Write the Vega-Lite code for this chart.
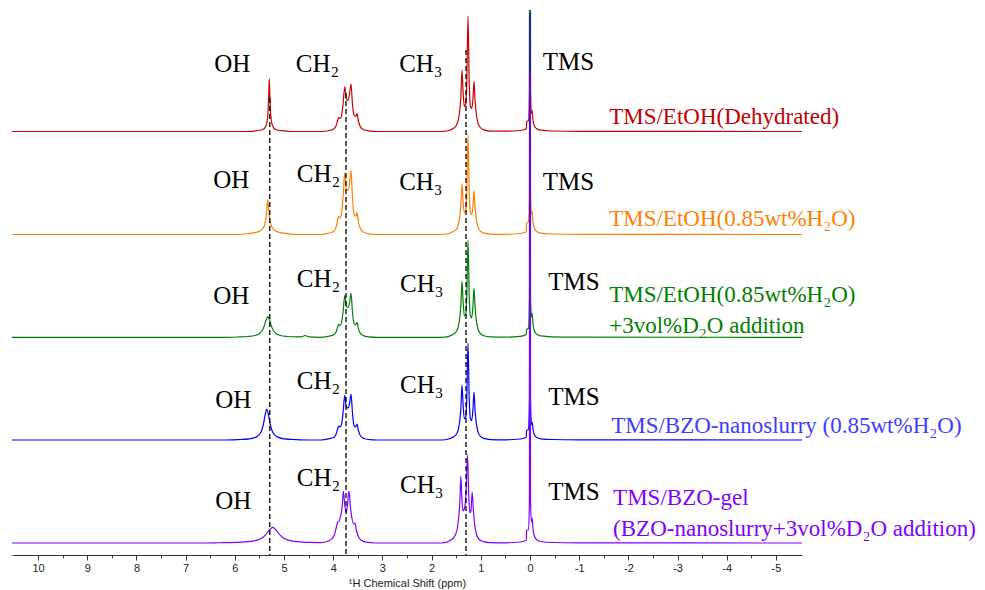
{
  "$schema": "https://vega.github.io/schema/vega-lite/v6.json",
  "width": 790,
  "height": 545,
  "autosize": {"type": "none"},
  "padding": {"left": 12, "top": 10, "right": 183, "bottom": 35},
  "background": "white",
  "config": {"view": {"stroke": null}},
  "datasets": {
    "spectra": [
      {"s":"R","ppm":10.53,"i":0},{"s":"R","ppm":5.75,"i":0},{"s":"R","ppm":5.55,"i":0.8},{"s":"R","ppm":5.45,"i":1.8},{"s":"R","ppm":5.40,"i":3},{"s":"R","ppm":5.37,"i":5.5},{"s":"R","ppm":5.345,"i":10},{"s":"R","ppm":5.325,"i":20},{"s":"R","ppm":5.312,"i":35},{"s":"R","ppm":5.30,"i":53},{"s":"R","ppm":5.288,"i":35},{"s":"R","ppm":5.275,"i":20},{"s":"R","ppm":5.255,"i":10},{"s":"R","ppm":5.23,"i":5.5},{"s":"R","ppm":5.20,"i":3},{"s":"R","ppm":5.15,"i":1.8},{"s":"R","ppm":5.05,"i":0.8},{"s":"R","ppm":4.85,"i":0},
      {"s":"R","ppm":4.25,"i":0},{"s":"R","ppm":4.08,"i":1},{"s":"R","ppm":3.99,"i":2.5},{"s":"R","ppm":3.94,"i":6},{"s":"R","ppm":3.905,"i":12},{"s":"R","ppm":3.89,"i":14},{"s":"R","ppm":3.86,"i":13},{"s":"R","ppm":3.83,"i":16},{"s":"R","ppm":3.80,"i":27},{"s":"R","ppm":3.765,"i":45},{"s":"R","ppm":3.735,"i":33},{"s":"R","ppm":3.70,"i":31},{"s":"R","ppm":3.67,"i":37},{"s":"R","ppm":3.638,"i":47.5},{"s":"R","ppm":3.61,"i":28},{"s":"R","ppm":3.58,"i":17},{"s":"R","ppm":3.545,"i":15},{"s":"R","ppm":3.515,"i":18},{"s":"R","ppm":3.49,"i":11},{"s":"R","ppm":3.45,"i":5},{"s":"R","ppm":3.39,"i":2},{"s":"R","ppm":3.28,"i":0.6},{"s":"R","ppm":3.1,"i":0},
      {"s":"R","ppm":1.80,"i":0},{"s":"R","ppm":1.65,"i":1},{"s":"R","ppm":1.56,"i":3},{"s":"R","ppm":1.50,"i":6},{"s":"R","ppm":1.46,"i":11},{"s":"R","ppm":1.43,"i":20},{"s":"R","ppm":1.405,"i":35},{"s":"R","ppm":1.382,"i":61.5},{"s":"R","ppm":1.36,"i":40},{"s":"R","ppm":1.335,"i":25},{"s":"R","ppm":1.31,"i":27},{"s":"R","ppm":1.285,"i":48},{"s":"R","ppm":1.26,"i":115.5},{"s":"R","ppm":1.235,"i":48},{"s":"R","ppm":1.21,"i":25},{"s":"R","ppm":1.185,"i":23},{"s":"R","ppm":1.16,"i":32},{"s":"R","ppm":1.138,"i":50.5},{"s":"R","ppm":1.115,"i":30},{"s":"R","ppm":1.09,"i":17},{"s":"R","ppm":1.06,"i":9},{"s":"R","ppm":1.01,"i":4},{"s":"R","ppm":0.94,"i":1.6},{"s":"R","ppm":0.80,"i":0.4},
      {"s":"R","ppm":0.45,"i":0.3},{"s":"R","ppm":0.2,"i":1},{"s":"R","ppm":0.1,"i":2.2},{"s":"R","ppm":0.072,"i":3},{"s":"R","ppm":0.068,"i":10},{"s":"R","ppm":0.03,"i":11},{"s":"R","ppm":0.012,"i":40},{"s":"R","ppm":0,"i":700},{"s":"R","ppm":-0.012,"i":40},{"s":"R","ppm":-0.03,"i":18},{"s":"R","ppm":-0.045,"i":21},{"s":"R","ppm":-0.06,"i":12},{"s":"R","ppm":-0.085,"i":6},{"s":"R","ppm":-0.13,"i":3},{"s":"R","ppm":-0.22,"i":1.3},{"s":"R","ppm":-0.45,"i":0.5},{"s":"R","ppm":-1,"i":0.2},{"s":"R","ppm":-5.53,"i":0},

      {"s":"O","ppm":10.53,"i":0},{"s":"O","ppm":5.9,"i":0},{"s":"O","ppm":5.7,"i":1.2},{"s":"O","ppm":5.56,"i":2.2},{"s":"O","ppm":5.49,"i":3.5},{"s":"O","ppm":5.44,"i":5.5},{"s":"O","ppm":5.40,"i":9},{"s":"O","ppm":5.37,"i":15},{"s":"O","ppm":5.35,"i":24},{"s":"O","ppm":5.33,"i":35},{"s":"O","ppm":5.31,"i":24},{"s":"O","ppm":5.29,"i":15},{"s":"O","ppm":5.26,"i":9},{"s":"O","ppm":5.22,"i":5.5},{"s":"O","ppm":5.17,"i":3.5},{"s":"O","ppm":5.10,"i":2.2},{"s":"O","ppm":4.96,"i":1.2},{"s":"O","ppm":4.7,"i":0},
      {"s":"O","ppm":4.25,"i":0},{"s":"O","ppm":4.08,"i":1.5},{"s":"O","ppm":3.99,"i":3},{"s":"O","ppm":3.94,"i":7.7},{"s":"O","ppm":3.905,"i":15.5},{"s":"O","ppm":3.89,"i":18},{"s":"O","ppm":3.86,"i":16.7},{"s":"O","ppm":3.83,"i":21.7},{"s":"O","ppm":3.80,"i":37},{"s":"O","ppm":3.765,"i":62},{"s":"O","ppm":3.735,"i":45},{"s":"O","ppm":3.70,"i":44},{"s":"O","ppm":3.67,"i":50},{"s":"O","ppm":3.638,"i":64},{"s":"O","ppm":3.61,"i":38},{"s":"O","ppm":3.58,"i":21},{"s":"O","ppm":3.545,"i":18},{"s":"O","ppm":3.515,"i":22},{"s":"O","ppm":3.49,"i":13},{"s":"O","ppm":3.45,"i":6},{"s":"O","ppm":3.39,"i":2.4},{"s":"O","ppm":3.28,"i":0.7},{"s":"O","ppm":3.1,"i":0},
      {"s":"O","ppm":1.80,"i":0},{"s":"O","ppm":1.65,"i":1},{"s":"O","ppm":1.56,"i":3},{"s":"O","ppm":1.50,"i":5.1},{"s":"O","ppm":1.46,"i":9.2},{"s":"O","ppm":1.43,"i":16.8},{"s":"O","ppm":1.405,"i":29},{"s":"O","ppm":1.382,"i":51},{"s":"O","ppm":1.36,"i":33},{"s":"O","ppm":1.335,"i":22},{"s":"O","ppm":1.31,"i":23},{"s":"O","ppm":1.285,"i":42},{"s":"O","ppm":1.26,"i":99.5},{"s":"O","ppm":1.235,"i":42},{"s":"O","ppm":1.21,"i":22},{"s":"O","ppm":1.185,"i":20},{"s":"O","ppm":1.16,"i":27.7},{"s":"O","ppm":1.138,"i":44},{"s":"O","ppm":1.115,"i":26.4},{"s":"O","ppm":1.09,"i":15},{"s":"O","ppm":1.06,"i":7.9},{"s":"O","ppm":1.01,"i":3.5},{"s":"O","ppm":0.94,"i":1.6},{"s":"O","ppm":0.80,"i":0.4},
      {"s":"O","ppm":0.5,"i":0.2},{"s":"O","ppm":0.2,"i":1},{"s":"O","ppm":0.1,"i":2.2},{"s":"O","ppm":0.075,"i":3},{"s":"O","ppm":0.07,"i":12},{"s":"O","ppm":0.03,"i":12},{"s":"O","ppm":0.012,"i":40},{"s":"O","ppm":0,"i":700},{"s":"O","ppm":-0.012,"i":40},{"s":"O","ppm":-0.03,"i":20},{"s":"O","ppm":-0.045,"i":23},{"s":"O","ppm":-0.06,"i":13},{"s":"O","ppm":-0.085,"i":6.5},{"s":"O","ppm":-0.13,"i":3.2},{"s":"O","ppm":-0.22,"i":1.4},{"s":"O","ppm":-0.45,"i":0.5},{"s":"O","ppm":-1,"i":0.2},{"s":"O","ppm":-5.53,"i":0},

      {"s":"G","ppm":10.53,"i":0},{"s":"G","ppm":6.2,"i":0},{"s":"G","ppm":5.95,"i":0.3},{"s":"G","ppm":5.73,"i":0.8},{"s":"G","ppm":5.57,"i":2.1},{"s":"G","ppm":5.49,"i":4.1},{"s":"G","ppm":5.45,"i":6.3},{"s":"G","ppm":5.41,"i":10.3},{"s":"G","ppm":5.37,"i":16.5},{"s":"G","ppm":5.33,"i":20.6},{"s":"G","ppm":5.29,"i":16.5},{"s":"G","ppm":5.25,"i":10.3},{"s":"G","ppm":5.21,"i":6.3},{"s":"G","ppm":5.17,"i":4.1},{"s":"G","ppm":5.09,"i":2.1},{"s":"G","ppm":4.93,"i":0.8},{"s":"G","ppm":4.73,"i":0.35},{"s":"G","ppm":4.65,"i":0.4},{"s":"G","ppm":4.57,"i":1.8},{"s":"G","ppm":4.49,"i":0.4},{"s":"G","ppm":4.3,"i":0},
      {"s":"G","ppm":4.08,"i":1.2},{"s":"G","ppm":3.99,"i":2.5},{"s":"G","ppm":3.94,"i":5.6},{"s":"G","ppm":3.905,"i":11},{"s":"G","ppm":3.89,"i":13},{"s":"G","ppm":3.86,"i":12},{"s":"G","ppm":3.83,"i":15},{"s":"G","ppm":3.80,"i":25},{"s":"G","ppm":3.765,"i":42},{"s":"G","ppm":3.735,"i":31},{"s":"G","ppm":3.70,"i":30},{"s":"G","ppm":3.67,"i":34},{"s":"G","ppm":3.638,"i":44},{"s":"G","ppm":3.61,"i":26},{"s":"G","ppm":3.58,"i":14},{"s":"G","ppm":3.545,"i":12.5},{"s":"G","ppm":3.515,"i":15},{"s":"G","ppm":3.49,"i":9},{"s":"G","ppm":3.45,"i":4.2},{"s":"G","ppm":3.39,"i":1.7},{"s":"G","ppm":3.28,"i":0.5},{"s":"G","ppm":3.1,"i":0},
      {"s":"G","ppm":1.80,"i":0},{"s":"G","ppm":1.65,"i":1},{"s":"G","ppm":1.56,"i":3},{"s":"G","ppm":1.50,"i":5.6},{"s":"G","ppm":1.46,"i":10},{"s":"G","ppm":1.43,"i":18.5},{"s":"G","ppm":1.405,"i":32},{"s":"G","ppm":1.382,"i":56},{"s":"G","ppm":1.36,"i":36.4},{"s":"G","ppm":1.335,"i":21.3},{"s":"G","ppm":1.31,"i":22.3},{"s":"G","ppm":1.285,"i":40.7},{"s":"G","ppm":1.26,"i":97},{"s":"G","ppm":1.235,"i":40.7},{"s":"G","ppm":1.21,"i":21.3},{"s":"G","ppm":1.185,"i":19.4},{"s":"G","ppm":1.16,"i":30.9},{"s":"G","ppm":1.138,"i":49},{"s":"G","ppm":1.115,"i":29.4},{"s":"G","ppm":1.09,"i":16.7},{"s":"G","ppm":1.06,"i":8.8},{"s":"G","ppm":1.01,"i":3.9},{"s":"G","ppm":0.94,"i":1.6},{"s":"G","ppm":0.80,"i":0.4},
      {"s":"G","ppm":0.5,"i":0.2},{"s":"G","ppm":0.2,"i":1},{"s":"G","ppm":0.1,"i":2.2},{"s":"G","ppm":0.075,"i":3},{"s":"G","ppm":0.07,"i":8},{"s":"G","ppm":0.03,"i":9},{"s":"G","ppm":0.012,"i":40},{"s":"G","ppm":0,"i":700},{"s":"G","ppm":-0.012,"i":40},{"s":"G","ppm":-0.03,"i":20},{"s":"G","ppm":-0.045,"i":24},{"s":"G","ppm":-0.06,"i":14},{"s":"G","ppm":-0.085,"i":7},{"s":"G","ppm":-0.13,"i":3.4},{"s":"G","ppm":-0.22,"i":1.4},{"s":"G","ppm":-0.45,"i":0.5},{"s":"G","ppm":-1,"i":0.2},{"s":"G","ppm":-5.53,"i":0},

      {"s":"B","ppm":10.53,"i":0},{"s":"B","ppm":6.2,"i":0},{"s":"B","ppm":5.95,"i":0.4},{"s":"B","ppm":5.70,"i":1.2},{"s":"B","ppm":5.56,"i":3.1},{"s":"B","ppm":5.49,"i":6.2},{"s":"B","ppm":5.455,"i":9.5},{"s":"B","ppm":5.42,"i":15.5},{"s":"B","ppm":5.385,"i":24.8},{"s":"B","ppm":5.35,"i":31},{"s":"B","ppm":5.315,"i":24.8},{"s":"B","ppm":5.28,"i":15.5},{"s":"B","ppm":5.245,"i":9.5},{"s":"B","ppm":5.21,"i":6.2},{"s":"B","ppm":5.14,"i":3.1},{"s":"B","ppm":5.0,"i":1.2},{"s":"B","ppm":4.75,"i":0.4},{"s":"B","ppm":4.5,"i":0},
      {"s":"B","ppm":4.25,"i":0},{"s":"B","ppm":4.08,"i":1.3},{"s":"B","ppm":3.99,"i":2.6},{"s":"B","ppm":3.94,"i":6},{"s":"B","ppm":3.905,"i":12},{"s":"B","ppm":3.89,"i":14},{"s":"B","ppm":3.86,"i":13},{"s":"B","ppm":3.83,"i":16},{"s":"B","ppm":3.80,"i":27},{"s":"B","ppm":3.765,"i":45},{"s":"B","ppm":3.735,"i":33},{"s":"B","ppm":3.70,"i":32},{"s":"B","ppm":3.67,"i":36},{"s":"B","ppm":3.638,"i":46},{"s":"B","ppm":3.61,"i":28},{"s":"B","ppm":3.58,"i":15},{"s":"B","ppm":3.545,"i":13},{"s":"B","ppm":3.515,"i":16},{"s":"B","ppm":3.49,"i":10},{"s":"B","ppm":3.45,"i":4.5},{"s":"B","ppm":3.39,"i":1.8},{"s":"B","ppm":3.28,"i":0.5},{"s":"B","ppm":3.1,"i":0},
      {"s":"B","ppm":1.80,"i":0},{"s":"B","ppm":1.65,"i":1},{"s":"B","ppm":1.56,"i":3},{"s":"B","ppm":1.50,"i":5.5},{"s":"B","ppm":1.46,"i":9.9},{"s":"B","ppm":1.43,"i":18.2},{"s":"B","ppm":1.405,"i":31.4},{"s":"B","ppm":1.382,"i":55},{"s":"B","ppm":1.36,"i":35.8},{"s":"B","ppm":1.335,"i":21.3},{"s":"B","ppm":1.31,"i":22.3},{"s":"B","ppm":1.285,"i":40.7},{"s":"B","ppm":1.26,"i":97},{"s":"B","ppm":1.235,"i":40.7},{"s":"B","ppm":1.21,"i":21.3},{"s":"B","ppm":1.185,"i":19.4},{"s":"B","ppm":1.16,"i":30.2},{"s":"B","ppm":1.138,"i":48},{"s":"B","ppm":1.115,"i":28.8},{"s":"B","ppm":1.09,"i":16.3},{"s":"B","ppm":1.06,"i":8.6},{"s":"B","ppm":1.01,"i":3.8},{"s":"B","ppm":0.94,"i":1.6},{"s":"B","ppm":0.80,"i":0.4},
      {"s":"B","ppm":0.5,"i":0.2},{"s":"B","ppm":0.2,"i":1},{"s":"B","ppm":0.1,"i":2.2},{"s":"B","ppm":0.075,"i":3},{"s":"B","ppm":0.07,"i":10},{"s":"B","ppm":0.03,"i":10},{"s":"B","ppm":0.012,"i":40},{"s":"B","ppm":0,"i":427},{"s":"B","ppm":-0.012,"i":40},{"s":"B","ppm":-0.03,"i":15},{"s":"B","ppm":-0.045,"i":18},{"s":"B","ppm":-0.06,"i":11},{"s":"B","ppm":-0.085,"i":5.5},{"s":"B","ppm":-0.13,"i":2.8},{"s":"B","ppm":-0.22,"i":1.2},{"s":"B","ppm":-0.45,"i":0.5},{"s":"B","ppm":-1,"i":0.2},{"s":"B","ppm":-5.53,"i":0},

      {"s":"P","ppm":10.53,"i":0},{"s":"P","ppm":6.6,"i":0},{"s":"P","ppm":6.33,"i":0.25},{"s":"P","ppm":5.98,"i":0.6},{"s":"P","ppm":5.68,"i":1.6},{"s":"P","ppm":5.53,"i":3.1},{"s":"P","ppm":5.455,"i":4.8},{"s":"P","ppm":5.38,"i":7.85},{"s":"P","ppm":5.305,"i":12.6},{"s":"P","ppm":5.23,"i":15.7},{"s":"P","ppm":5.155,"i":12.6},{"s":"P","ppm":5.08,"i":7.85},{"s":"P","ppm":5.005,"i":4.8},{"s":"P","ppm":4.93,"i":3.1},{"s":"P","ppm":4.78,"i":1.6},{"s":"P","ppm":4.48,"i":0.6},{"s":"P","ppm":4.25,"i":0.3},
      {"s":"P","ppm":4.10,"i":2},{"s":"P","ppm":4.02,"i":4.5},{"s":"P","ppm":3.97,"i":9},{"s":"P","ppm":3.935,"i":16},{"s":"P","ppm":3.91,"i":21},{"s":"P","ppm":3.88,"i":22},{"s":"P","ppm":3.845,"i":28},{"s":"P","ppm":3.815,"i":38},{"s":"P","ppm":3.795,"i":52},{"s":"P","ppm":3.765,"i":38},{"s":"P","ppm":3.737,"i":31},{"s":"P","ppm":3.71,"i":38},{"s":"P","ppm":3.68,"i":52},{"s":"P","ppm":3.65,"i":36},{"s":"P","ppm":3.62,"i":25},{"s":"P","ppm":3.585,"i":19},{"s":"P","ppm":3.557,"i":20},{"s":"P","ppm":3.53,"i":13},{"s":"P","ppm":3.49,"i":6.5},{"s":"P","ppm":3.43,"i":2.7},{"s":"P","ppm":3.33,"i":0.8},{"s":"P","ppm":3.15,"i":0},
      {"s":"P","ppm":1.80,"i":0},{"s":"P","ppm":1.66,"i":1.5},{"s":"P","ppm":1.58,"i":4},{"s":"P","ppm":1.52,"i":8},{"s":"P","ppm":1.48,"i":14},{"s":"P","ppm":1.45,"i":25},{"s":"P","ppm":1.425,"i":42},{"s":"P","ppm":1.405,"i":67},{"s":"P","ppm":1.385,"i":45},{"s":"P","ppm":1.36,"i":32},{"s":"P","ppm":1.335,"i":34},{"s":"P","ppm":1.30,"i":50},{"s":"P","ppm":1.27,"i":88},{"s":"P","ppm":1.245,"i":48},{"s":"P","ppm":1.22,"i":30},{"s":"P","ppm":1.20,"i":32},{"s":"P","ppm":1.175,"i":51},{"s":"P","ppm":1.15,"i":32},{"s":"P","ppm":1.12,"i":17},{"s":"P","ppm":1.09,"i":9},{"s":"P","ppm":1.04,"i":4},{"s":"P","ppm":0.96,"i":1.6},{"s":"P","ppm":0.82,"i":0.4},
      {"s":"P","ppm":0.5,"i":0.2},{"s":"P","ppm":0.2,"i":1},{"s":"P","ppm":0.1,"i":2.2},{"s":"P","ppm":0.075,"i":3},{"s":"P","ppm":0.07,"i":13},{"s":"P","ppm":0.03,"i":13},{"s":"P","ppm":0.012,"i":40},{"s":"P","ppm":0,"i":470},{"s":"P","ppm":-0.012,"i":40},{"s":"P","ppm":-0.03,"i":21},{"s":"P","ppm":-0.045,"i":25},{"s":"P","ppm":-0.06,"i":15},{"s":"P","ppm":-0.085,"i":7.5},{"s":"P","ppm":-0.13,"i":3.6},{"s":"P","ppm":-0.22,"i":1.5},{"s":"P","ppm":-0.45,"i":0.5},{"s":"P","ppm":-1,"i":0.2},{"s":"P","ppm":-5.53,"i":0}
    ],
    "peaks": [
      {"s":"R","t":"OH","ppm":6.42,"i":59.8},{"s":"R","t":"CH₂","ppm":4.76,"i":59.8},{"s":"R","t":"CH₃","ppm":2.66,"i":59.8},{"s":"R","t":"TMS","ppm":-0.26,"i":61.5},
      {"s":"O","t":"OH","ppm":6.44,"i":46.8},{"s":"O","t":"CH₂","ppm":4.74,"i":52.5},{"s":"O","t":"CH₃","ppm":2.66,"i":44.5},{"s":"O","t":"TMS","ppm":-0.26,"i":44.5},
      {"s":"G","t":"OH","ppm":6.44,"i":33.3},{"s":"G","t":"CH₂","ppm":4.74,"i":50.3},{"s":"G","t":"CH₃","ppm":2.64,"i":45.3},{"s":"G","t":"TMS","ppm":-0.37,"i":47.3},
      {"s":"B","t":"OH","ppm":6.40,"i":32},{"s":"B","t":"CH₂","ppm":4.74,"i":51},{"s":"B","t":"CH₃","ppm":2.64,"i":47},{"s":"B","t":"TMS","ppm":-0.37,"i":35},
      {"s":"P","t":"OH","ppm":6.40,"i":34},{"s":"P","t":"CH₂","ppm":4.74,"i":57},{"s":"P","t":"CH₃","ppm":2.64,"i":50},{"s":"P","t":"TMS","ppm":-0.37,"i":43}
    ],
    "names": [
      {"s":"R","t":"TMS/EtOH(Dehydrated)","ppm":-1.61,"i":7.2},
      {"s":"O","t":"TMS/EtOH(0.85wt%H₂O)","ppm":-1.61,"i":8.5},
      {"s":"G","t":"TMS/EtOH(0.85wt%H₂O)","ppm":-1.61,"i":35.3},
      {"s":"G","t":"+3vol%D₂O addition","ppm":-1.61,"i":4.3},
      {"s":"B","t":"TMS/BZO-nanoslurry (0.85wt%H₂O)","ppm":-1.65,"i":7},
      {"s":"P","t":"TMS/BZO-gel","ppm":-1.69,"i":38},
      {"s":"P","t":"(BZO-nanoslurry+3vol%D₂O addition)","ppm":-1.69,"i":7}
    ],
    "guides": [
      {"ppm":5.29,"top":457,"bot":0},
      {"ppm":3.74,"top":462,"bot":0},
      {"ppm":1.30,"top":505,"bot":0}
    ]
  },
  "encoding": {
    "x": {
      "field": "ppm",
      "type": "quantitative",
      "scale": {"domain": [-5.53, 10.53], "reverse": true, "nice": false, "zero": false},
      "axis": {
        "title": "¹H Chemical Shift (ppm)",
        "titleFont": "Liberation Sans",
        "titleFontSize": 11,
        "titleFontWeight": "normal",
        "titleColor": "#222",
        "titlePadding": 4,
        "values": [-5,-4.5,-4,-3.5,-3,-2.5,-2,-1.5,-1,-0.5,0,0.5,1,1.5,2,2.5,3,3.5,4,4.5,5,5.5,6,6.5,7,7.5,8,8.5,9,9.5,10],
        "labelExpr": "datum.value % 1 === 0 ? '' + datum.value : ''",
        "labelFont": "Liberation Sans",
        "labelFontSize": 11,
        "labelColor": "#222",
        "labelPadding": 2,
        "labelOverlap": false,
        "labelFlush": false,
        "tickSize": {"condition": {"test": "datum.value % 1 !== 0", "value": 3}, "value": 5},
        "tickColor": "#333",
        "domainColor": "#333",
        "grid": false
      }
    }
  },
  "layer": [
    {
      "encoding": {"y": {"field": "i", "type": "quantitative", "axis": null, "scale": {"domain": [-423.5, 121.5], "nice": false, "zero": false}}},
      "layer": [
        {"data": {"name": "spectra"}, "transform": [{"filter": "datum.s === 'R'"}], "mark": {"type": "line", "color": "#CC0000", "strokeWidth": 1.2, "clip": true, "interpolate": "monotone"}},
        {"data": {"name": "peaks"}, "transform": [{"filter": "datum.s === 'R'"}], "mark": {"type": "text", "font": "Liberation Serif", "fontSize": 25, "align": "left", "baseline": "alphabetic", "color": "black"}, "encoding": {"text": {"field": "t"}}},
        {"data": {"name": "names"}, "transform": [{"filter": "datum.s === 'R'"}], "mark": {"type": "text", "font": "Liberation Serif", "fontSize": 23, "align": "left", "baseline": "alphabetic", "color": "#C00000"}, "encoding": {"text": {"field": "t"}}}
      ]
    },
    {
      "encoding": {"y": {"field": "i", "type": "quantitative", "axis": null, "scale": {"domain": [-320.5, 224.5], "nice": false, "zero": false}}},
      "layer": [
        {"data": {"name": "spectra"}, "transform": [{"filter": "datum.s === 'O'"}], "mark": {"type": "line", "color": "#FF8000", "strokeWidth": 1.2, "clip": true, "interpolate": "monotone"}},
        {"data": {"name": "peaks"}, "transform": [{"filter": "datum.s === 'O'"}], "mark": {"type": "text", "font": "Liberation Serif", "fontSize": 25, "align": "left", "baseline": "alphabetic", "color": "black"}, "encoding": {"text": {"field": "t"}}},
        {"data": {"name": "names"}, "transform": [{"filter": "datum.s === 'O'"}], "mark": {"type": "text", "font": "Liberation Serif", "fontSize": 23, "align": "left", "baseline": "alphabetic", "color": "#FF8000"}, "encoding": {"text": {"field": "t"}}}
      ]
    },
    {
      "encoding": {"y": {"field": "i", "type": "quantitative", "axis": null, "scale": {"domain": [-217.7, 327.3], "nice": false, "zero": false}}},
      "layer": [
        {"data": {"name": "spectra"}, "transform": [{"filter": "datum.s === 'G'"}], "mark": {"type": "line", "color": "#008000", "strokeWidth": 1.2, "clip": true, "interpolate": "monotone"}},
        {"data": {"name": "peaks"}, "transform": [{"filter": "datum.s === 'G'"}], "mark": {"type": "text", "font": "Liberation Serif", "fontSize": 25, "align": "left", "baseline": "alphabetic", "color": "black"}, "encoding": {"text": {"field": "t"}}},
        {"data": {"name": "names"}, "transform": [{"filter": "datum.s === 'G'"}], "mark": {"type": "text", "font": "Liberation Serif", "fontSize": 23, "align": "left", "baseline": "alphabetic", "color": "#008000"}, "encoding": {"text": {"field": "t"}}}
      ]
    },
    {
      "encoding": {"y": {"field": "i", "type": "quantitative", "axis": null, "scale": {"domain": [-115, 430], "nice": false, "zero": false}}},
      "layer": [
        {"data": {"name": "spectra"}, "transform": [{"filter": "datum.s === 'B'"}], "mark": {"type": "line", "color": "#0000FF", "strokeWidth": 1.2, "clip": true, "interpolate": "monotone"}},
        {"data": {"name": "peaks"}, "transform": [{"filter": "datum.s === 'B'"}], "mark": {"type": "text", "font": "Liberation Serif", "fontSize": 25, "align": "left", "baseline": "alphabetic", "color": "black"}, "encoding": {"text": {"field": "t"}}},
        {"data": {"name": "names"}, "transform": [{"filter": "datum.s === 'B'"}], "mark": {"type": "text", "font": "Liberation Serif", "fontSize": 23, "align": "left", "baseline": "alphabetic", "color": "#3C3CFF"}, "encoding": {"text": {"field": "t"}}}
      ]
    },
    {
      "encoding": {"y": {"field": "i", "type": "quantitative", "axis": null, "scale": {"domain": [-12, 533], "nice": false, "zero": false}}},
      "layer": [
        {"data": {"name": "spectra"}, "transform": [{"filter": "datum.s === 'P'"}], "mark": {"type": "line", "color": "#8000FF", "strokeWidth": 1.2, "clip": true, "interpolate": "monotone"}},
        {"data": {"name": "peaks"}, "transform": [{"filter": "datum.s === 'P'"}], "mark": {"type": "text", "font": "Liberation Serif", "fontSize": 25, "align": "left", "baseline": "alphabetic", "color": "black"}, "encoding": {"text": {"field": "t"}}},
        {"data": {"name": "names"}, "transform": [{"filter": "datum.s === 'P'"}], "mark": {"type": "text", "font": "Liberation Serif", "fontSize": 23, "align": "left", "baseline": "alphabetic", "color": "#8000FF"}, "encoding": {"text": {"field": "t"}}}
      ]
    },
    {
      "data": {"name": "guides"},
      "mark": {"type": "rule", "color": "black", "strokeWidth": 1.3, "strokeDash": [5, 3]},
      "encoding": {
        "y": {"field": "top", "type": "quantitative", "axis": null, "scale": {"domain": [0, 545], "nice": false, "zero": false}},
        "y2": {"field": "bot"}
      }
    }
  ],
  "resolve": {"scale": {"y": "independent"}}
}
